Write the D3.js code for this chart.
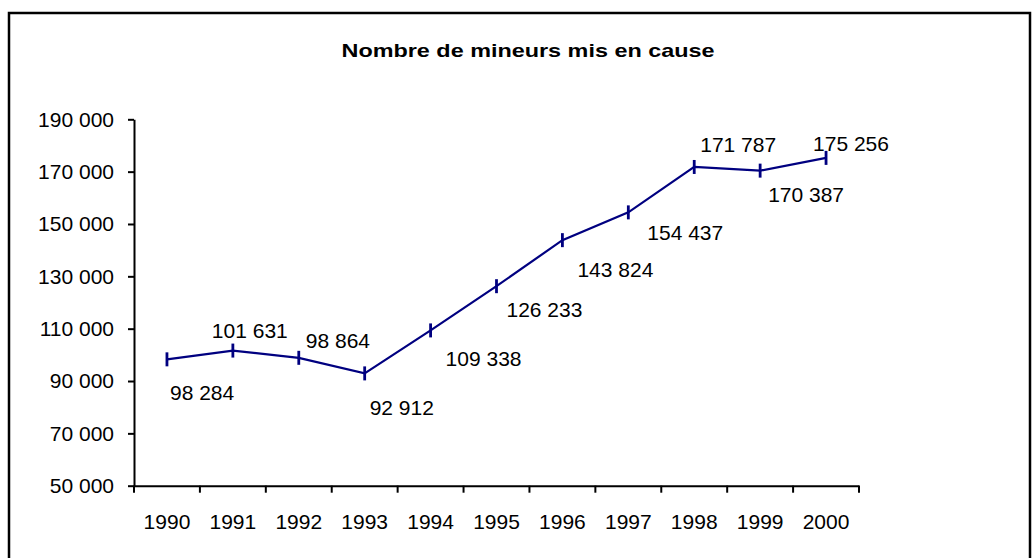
<!DOCTYPE html>
<html>
<head>
<meta charset="utf-8">
<script src="https://cdn.jsdelivr.net/npm/d3@7"></script>
<style>
  body { margin: 0; background: #fff; }
  text { font-family: "Liberation Sans", Arial, sans-serif; fill: #000; }
</style>
</head>
<body>
<div id="chart"></div>
<script>
// Data
const years = ['1990', '1991', '1992', '1993', '1994', '1995', '1996', '1997', '1998', '1999', '2000']
const mineurs = [98284, 101631, 98864, 92912, 109338, 126233, 143824, 154437, 171787, 170387, 175256]
const yTicks = [50000, 70000, 90000, 110000, 130000, 150000, 170000, 190000]
const title = 'Nombre de mineurs mis en cause'

// Hand-placed label nudges (pixels from the point), as in the original
const labelDx = [3, -21, 7, 5, 15, 10, 15, 19, 6, 8, -13]
const labelDy = [41, -13, -10, 42, 36, 31, 37, 28, -15, 31, -7]

const W = 1032
const H = 558
const NAVY = '#000080'
const FONT = '"Liberation Sans", Arial, sans-serif'

// French number format: 98 284
const fmt = d3.formatLocale({ decimal: ',', thousands: ' ', grouping: [3], currency: ['', ''] }).format(',d')

const svg = d3.select('#chart')
  .append('svg')
  .attr('width', W)
  .attr('height', H)

// Outer frame
svg.append('rect')
  .attr('x', 9)
  .attr('y', 13)
  .attr('width', 1021)
  .attr('height', 600)
  .attr('fill', 'none')
  .attr('stroke', '#000')
  .attr('stroke-width', 2.5)

// Title (stretched horizontally like the original)
svg.append('text')
  .attr('transform', 'translate(528, 57) scale(1.3, 1)')
  .attr('text-anchor', 'middle')
  .attr('font-size', 18)
  .attr('font-weight', 'bold')
  .text(title)

// Scales
const x = d3.scaleBand().domain(years).range([134, 859])
const y = d3.scaleLinear().domain([50000, 190000]).range([485.7, 119.3])
const cx = d => x(d) + x.bandwidth() / 2

// Y axis
const yAxis = svg.append('g')
  .attr('transform', 'translate(134,0)')
  .call(d3.axisLeft(y).tickValues(yTicks).tickFormat(fmt).tickSize(6).tickSizeOuter(0).tickPadding(14))
yAxis.select('.domain').attr('stroke-width', 2)
yAxis.selectAll('.tick line').attr('stroke-width', 2)
yAxis.selectAll('.tick text').attr('font-size', 21).attr('font-family', FONT)

// X axis: labels centred in bands, ticks on band edges
const xAxis = svg.append('g')
  .attr('transform', 'translate(0,485.7)')
  .call(d3.axisBottom(x).tickSize(0).tickPadding(28))
xAxis.select('.domain').attr('stroke-width', 2)
xAxis.selectAll('.tick text').attr('font-size', 21).attr('font-family', FONT)

xAxis.selectAll('.edge')
  .data(years.concat(['end']))
  .enter()
  .append('line')
  .attr('class', 'edge')
  .attr('x1', d => d === 'end' ? x.range()[1] : x(d))
  .attr('x2', d => d === 'end' ? x.range()[1] : x(d))
  .attr('y1', 0)
  .attr('y2', 7)
  .attr('stroke', '#000')
  .attr('stroke-width', 2)

// Line
const series = years.map((yr, i) => ({ year: yr, value: mineurs[i], dx: labelDx[i], dy: labelDy[i] }))

svg.append('path')
  .datum(series)
  .attr('fill', 'none')
  .attr('stroke', NAVY)
  .attr('stroke-width', 2.2)
  .attr('d', d3.line().x(d => cx(d.year)).y(d => y(d.value)))

// Dash markers
svg.selectAll('.marker')
  .data(series)
  .enter()
  .append('line')
  .attr('class', 'marker')
  .attr('x1', d => cx(d.year))
  .attr('x2', d => cx(d.year))
  .attr('y1', d => y(d.value) - 7)
  .attr('y2', d => y(d.value) + 7)
  .attr('stroke', NAVY)
  .attr('stroke-width', 2.8)

// Value labels
svg.selectAll('.value')
  .data(series)
  .enter()
  .append('text')
  .attr('class', 'value')
  .attr('x', d => cx(d.year) + d.dx)
  .attr('y', d => y(d.value) + d.dy)
  .attr('font-size', 21)
  .text(d => fmt(d.value))
</script>
</body>
</html>
